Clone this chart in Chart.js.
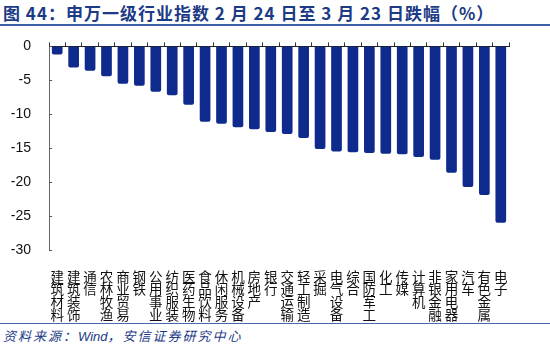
<!DOCTYPE html>
<html>
<head>
<meta charset="utf-8">
<script src="https://cdn.jsdelivr.net/npm/chart.js@4"></script>
<style>
  body { margin: 0; width: 550px; height: 346px; background: #fff; overflow: hidden; }
  #title {
    position: absolute; left: 0; top: 0; width: 550px; height: 26px;
    border-bottom: 2px solid #3d5ea8;
    font: bold 17px "Noto Sans CJK SC", sans-serif; color: #1c3a86;
    line-height: 25px; padding-left: 3px; box-sizing: border-box; white-space: nowrap;
    letter-spacing: 1px;
  }
  #box { position: absolute; left: 0; top: 28px; width: 550px; height: 294px; }
  #source {
    position: absolute; left: 0; top: 323px; width: 550px; height: 23px;
    border-top: 1px solid #4a68ad;
    font: italic 13px "Noto Sans CJK SC", sans-serif; color: #1c3a86;
    line-height: 24px; padding-left: 3px; box-sizing: border-box; letter-spacing: 2px;
  }
</style>
</head>
<body>
<div id="title">图 44：申万一级行业指数 2 月 24 日至 3 月 23 日跌幅（%）</div>
<div id="box"><canvas id="chart"></canvas></div>
<div id="source">资料来源：<span style="font-family: 'Liberation Sans', Arial; letter-spacing: 0">Wind</span>，安信证券研究中心</div>
<script>
// industry names, one character per line
const industries = [
  "建筑材料", "建筑装饰", "通信", "农林牧渔", "商业贸易", "钢铁", "公用事业",
  "纺织服装", "医药生物", "食品饮料", "休闲服务", "机械设备", "房地产", "银行",
  "交通运输", "轻工制造", "采掘", "电气设备", "综合", "国防军工", "化工",
  "传媒", "计算机", "非银金融", "家用电器", "汽车", "有色金属", "电子"
];
// change in % from Feb 24 to Mar 23
const changes = [
  -1.2, -3.1, -3.6, -4.4, -5.5, -5.8, -6.7,
  -7.2, -8.6, -11.1, -11.4, -11.9, -12.2, -12.6,
  -12.9, -13.5, -15.1, -15.5, -15.6, -15.7, -15.8,
  -15.9, -16.3, -16.7, -18.6, -20.7, -21.9, -26.0
];
const yTicks = [0, -5, -10, -15, -20, -25, -30];

const labels = industries.map(s => s.split(""));

// small inward tick marks on the y axis
const innerTicks = {
  id: "innerTicks",
  afterDraw(chart) {
    const y = chart.scales.y;
    const ctx = chart.ctx;
    ctx.save();
    ctx.strokeStyle = "#555";
    ctx.lineWidth = 1;
    yTicks.forEach(v => {
      const py = Math.round(y.getPixelForValue(v)) + 0.5;
      ctx.beginPath();
      ctx.moveTo(y.right, py);
      ctx.lineTo(y.right + 3, py);
      ctx.stroke();
    });
    ctx.restore();
  }
};

new Chart(document.getElementById("chart"), {
  type: "bar",
  data: {
    labels: labels,
    datasets: [{
      data: changes,
      backgroundColor: "#0e2a8c",
      barPercentage: 0.65,
      categoryPercentage: 1,
      borderRadius: { bottomLeft: 2, bottomRight: 2, topLeft: 0, topRight: 0 },
      borderSkipped: "start"
    }]
  },
  options: {
    responsive: true,
    maintainAspectRatio: false,
    animation: false,
    layout: { padding: { top: 3, right: 41, left: 0, bottom: 0 } },
    plugins: { legend: { display: false }, tooltip: { enabled: false } },
    scales: {
      x: {
        position: "bottom",
        offset: true,
        grid: { display: false },
        border: { display: false },
        ticks: {
          autoSkip: false,
          maxRotation: 0,
          padding: 12,
          color: "#111",
          font: { family: "Noto Sans CJK SC", size: 13.5, lineHeight: "12.8px" }
        },
        afterFit: s => { s.height = 72; }
      },
      xTop: {
        type: "category",
        position: "top",
        offset: true,
        grid: { offset: true, drawOnChartArea: false, tickLength: 4, color: "#333" },
        border: { display: true, color: "#222", width: 1 },
        ticks: { display: false },
        afterFit: s => { s.height = 4; }
      },
      y: {
        min: -30,
        max: 0,
        grid: { display: false },
        border: { display: true, color: "#666", width: 1 },
        ticks: {
          stepSize: 5,
          padding: 10,
          color: "#111",
          font: { family: "Liberation Sans", size: 14 }
        },
        afterFit: s => { s.width = 49; }
      }
    }
  },
  plugins: [innerTicks]
});
</script>
</body>
</html>
